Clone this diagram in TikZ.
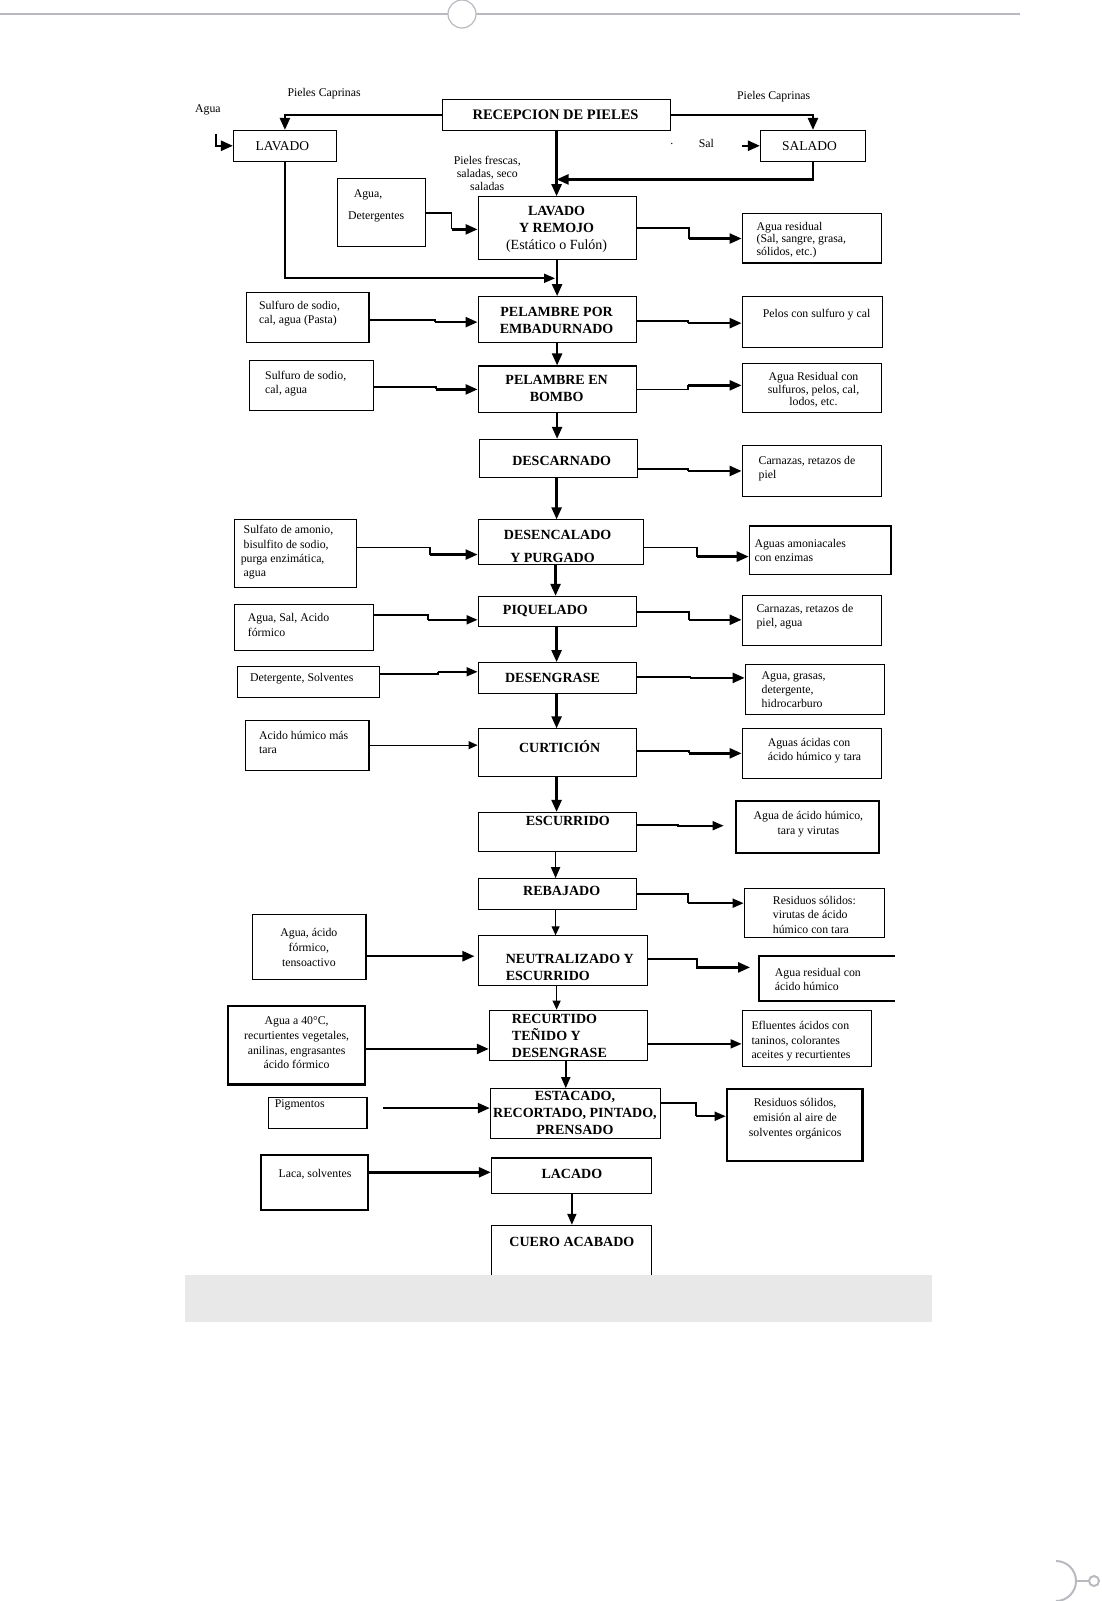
\documentclass[tikz,border=0pt]{standalone}
\usepackage{fontspec}
\setmainfont{Liberation Serif}
\usetikzlibrary{arrows.meta,fit,calc}
\definecolor{decogray}{RGB}{185,185,192}
\definecolor{bandgray}{RGB}{232,232,232}
\tikzset{
  bx/.style={draw, line width=1.1pt, inner sep=0pt},
  bxk/.style={draw, line width=2.3pt, inner sep=0pt},
  tB/.style={font=\fontsize{14}{17}\selectfont\bfseries, inner sep=0pt, align=center},
  tS/.style={font=\fontsize{11.8}{14.3}\selectfont, inner sep=0pt, align=left},
  tSc/.style={tS, align=center},
  arr/.style={line width=2.4pt, -{Triangle[length=12pt,width=10pt]}},
  arrm/.style={line width=1.8pt, -{Triangle[length=11pt,width=9pt]}},
  arrt/.style={line width=1.2pt, -{Triangle[length=9pt,width=8pt]}},
  deco/.style={draw=decogray, line width=1.2pt},
}
\newcommand\stepar[6]{\draw[line width=1.8pt] (#2.east |- 0,#3) -- (#4,#3) -- (#4,#5); \draw[#1] (#4,#5) -- (#6.west |- 0,#5);}
\begin{document}
\begin{tikzpicture}[x=1.0194pt,y=-1.0194pt]
\useasboundingbox (0pt,0pt) rectangle (1101pt,-1601pt);
% page decorations
\draw[deco] (0pt,-14pt) -- (448pt,-14pt);
\draw[deco] (462pt,-14pt) circle[radius=14pt];
\draw[deco] (476pt,-14pt) -- (1020pt,-14pt);
\draw[deco, line width=2pt] (1056pt,-1561pt) arc[start angle=90, end angle=-90, radius=20pt];
\draw[deco, line width=2pt] (1076pt,-1581pt) -- (1089pt,-1581pt);
\draw[deco, line width=2pt] (1094pt,-1581pt) circle[radius=5pt];

% ---------- main column boxes
\node[bx, fit={(434,98) (658,128)}] (rec) {};
\node[bx, fit={(229,128) (330,158)}] (lav) {};
\node[bx, fit={(746,128) (849,158)}] (sal) {};
\node[bx, fit={(469,193) (624,255)}] (lr) {};
\node[bx, fit={(469,291) (624,336)}] (pe) {};
\node[bx, fit={(469,359) (624,405)}] (pb) {};
\node[bx, fit={(470,431) (625,468)}] (ds) {};
\node[bx, fit={(469,510) (631,554)}] (dc) {};
\node[bx, fit={(469,585) (624,615)}] (pq) {};
\node[bx, fit={(469,650) (624,680)}] (dsg) {};
\node[bx, fit={(469,715) (624,762)}] (cu) {};
\node[bx, fit={(469,797) (624,835)}] (esc) {};
\node[bx, fit={(469,862) (624,892)}] (rb) {};
\node[bx, fit={(469,918) (635,967)}] (ne) {};
\node[bx, fit={(480,991) (635,1040)}] (rt) {};
\node[bx, fit={(481,1068) (648,1117)}] (es) {};
\node[bx, fit={(482,1136) (639,1171)}] (la) {};
\node[bx, fit={(482,1202) (639,1262)}] (ca) {};

% ---------- left input boxes
\node[bx, fit={(331,175) (417,242)}] (ad) {};
\node[bx, fit={(242,287) (362,336)}] (s1) {};
\node[bx, fit={(245,354) (366,403)}] (s2) {};
\node[bx, fit={(230,510) (350,576)}] (sa) {};
\node[bx, fit={(230,593) (366,638)}] (as) {};
\node[bx, fit={(233,654) (372,684)}] (dg) {};
\node[bx, fit={(241,707) (362,756)}] (ah) {};
\node[bx, fit={(248,897) (359,961)}] (af) {};
\node[bxk, fit={(224,987) (358,1064)}] (a40) {};
\node[bx, fit={(263,1077) (360,1107)}] (pg) {};
\node[bxk, fit={(256,1133) (361,1187)}] (lc) {};

% ---------- right output boxes
\node[bx, fit={(728,209) (865,258)}] (ar) {};
\node[bx, fit={(728,291) (866,341)}] (pc) {};
\node[bx, fit={(728,357) (865,405)}] (rsw) {};
\node[bx, fit={(728,437) (865,487)}] (cr) {};
\node[bx, fit={(735,516) (874,564)}] (am) {};
\node[bx, fit={(728,584) (865,633)}] (cr2) {};
\node[bx, fit={(731,652) (868,701)}] (ag) {};
\node[bx, fit={(728,715) (865,764)}] (aa) {};
\node[bxk, fit={(722,786) (862,837)}] (ah2) {};
\node[bx, fit={(730,872) (868,920)}] (rs) {};
\node[inner sep=0pt, fit={(745,938) (878,982)}] (arh) {};
\draw[line width=2.3pt] (arh.north east) -- (arh.north west) -- (arh.south west) -- (arh.south east);
\node[bx, fit={(728,991) (855,1046)}] (ef) {};
\node[bxk, fit={(713,1068) (846,1139)}] (rso) {};

% ---------- texts
\node[tS] (tpc1) at (318,92) {Pieles Caprinas};
\node[tS] (tpc2) at (759,95) {Pieles Caprinas};
\node[tS] (tagua) at (204,108) {Agua};
\node[tS] (tsal) at (693,141) {Sal};
\node[tS] (tdot) at (659,141) {.};
\node[tSc, font=\fontsize{11.8}{12.8}\selectfont] (tpf) at (478,170) {Pieles frescas,\\saladas, seco\\saladas};
\node[tB, font=\fontsize{14.5}{17}\selectfont\bfseries] (trec) at (545,113) {RECEPCION DE PIELES};
\node[font=\fontsize{13.5}{16}\selectfont, inner sep=0pt] (tlav) at (277,143) {LAVADO};
\node[font=\fontsize{13.5}{16}\selectfont, inner sep=0pt] (tsald) at (794,143) {SALADO};
\node[tS] (tad1) at (361,191) {Agua,};
\node[tS] (tad2) at (369,213) {Detergentes};
\node[tB] (tlr) at (546,225) {LAVADO\\Y REMOJO\\{\mdseries (Estático o Fulón)}};
\node[tB] (tpe) at (546,314) {PELAMBRE POR\\EMBADURNADO};
\node[tB] (tpb) at (546,381) {PELAMBRE EN\\BOMBO};
\node[tB] (tds) at (551,452) {DESCARNADO};
\node[tB] (tdc1) at (547,525) {DESENCALADO};
\node[tB] (tdc2) at (542,547) {Y PURGADO};
\node[tB] (tpq) at (535,599) {PIQUELADO};
\node[tB] (tdsg) at (542,665) {DESENGRASE};
\node[tB] (tcu) at (549,732) {CURTICIÓN};
\node[tB] (tesc) at (557,805) {ESCURRIDO};
\node[tB] (trb) at (551,874) {REBAJADO};
\node[tB, align=left, anchor=west] (tne) at (496,949.5) {NEUTRALIZADO Y\\ESCURRIDO};
\node[tB, align=left, anchor=west] (trt) at (502,1016) {RECURTIDO\\TEÑIDO Y\\DESENGRASE};
\node[tB] (tes) at (564,1092) {ESTACADO,\\RECORTADO, PINTADO,\\PRENSADO};
\node[tB] (tla) at (561,1152) {LACADO};
\node[tB] (tca) at (561,1218) {CUERO ACABADO};

\node[tS, anchor=west] (ts1) at (254,307.5) {Sulfuro de sodio,\\cal, agua (Pasta)};
\node[tS, anchor=west] (ts2) at (260,376) {Sulfuro de sodio,\\cal, agua};
\node[tS, anchor=west, font=\fontsize{11.8}{14.3}\selectfont] (tsa) at (236,542) {\ Sulfato de amonio,\\\ bisulfito de sodio,\\purga enzimática,\\\ agua};
\node[tS, anchor=west] (tas) at (243,613) {Agua, Sal, Acido\\fórmico};
\node[tS] (tdg) at (296,666) {Detergente, Solventes};
\node[tS, anchor=west] (tah) at (254,728.5) {Acido húmico más\\tara};
\node[tSc, font=\fontsize{11.8}{15}\selectfont] (taf) at (303,929) {Agua, ácido\\fórmico,\\tensoactivo};
\node[tSc, font=\fontsize{11.8}{14.7}\selectfont] (ta40) at (291,1023) {Agua a 40°C,\\recurtientes vegetales,\\anilinas, engrasantes\\ácido fórmico};
\node[tS] (tpg) at (294,1084) {Pigmentos};
\node[tS] (tlc) at (309,1152) {Laca, solventes};

\node[tS, anchor=west, font=\fontsize{11.8}{12.8}\selectfont] (tar) at (742,235.5) {Agua residual\\(Sal, sangre, grasa,\\sólidos, etc.)};
\node[tS] (tpc) at (801,309) {Pelos con sulfuro y cal};
\node[tSc, font=\fontsize{11.8}{12.8}\selectfont] (trsw) at (798,382.5) {Agua Residual con\\sulfuros, pelos, cal,\\lodos, etc.};
\node[tS, anchor=west] (tcr) at (744,459.5) {Carnazas, retazos de\\piel};
\node[tS, anchor=west] (tam) at (740,540) {Aguas amoniacales\\con enzimas};
\node[tS, anchor=west] (tcr2) at (742,605) {Carnazas, retazos de\\piel, agua};
\node[tS, anchor=west] (tag) at (747,676.5) {Agua, grasas,\\detergente,\\hidrocarburo};
\node[tS, anchor=west] (taa) at (753,736.5) {Aguas ácidas con\\ácido húmico y tara};
\node[tSc] (tah2) at (793,808.5) {Agua de ácido húmico,\\tara y virutas};
\node[tS, anchor=west] (trs) at (758,897.5) {Residuos sólidos:\\virutas de ácido\\húmico con tara};
\node[tS, anchor=west] (tarh) at (760,960.5) {Agua residual con\\ácido húmico};
\node[tS, anchor=west] (tef) at (737,1021.5) {Efluentes ácidos con\\taninos, colorantes\\aceites y recurtientes};
\node[tSc, font=\fontsize{11.8}{15}\selectfont] (trso) at (780,1097) {Residuos sólidos,\\emisión al aire de\\solventes orgánicos};

% ---------- top connectors
\draw[arr] (rec.west) -| (lav.north);
\draw[arr] (rec.east) -| (sal.north);
\coordinate (agua0) at (212,131);
\draw[arr] (agua0) |- (lav.west);
\coordinate (sal0) at (728,143);
\draw[arr] (sal0) -- (sal.west);
\draw[arr] (rec.south) -- (rec.south |- lr.north);
\draw[arr] (sal.south) |- (rec.south |- 0,176);
\draw[arrm] (lav.south) |- ($(lr.south |- 0,273)+(-2,0)$);

% ---------- main vertical connectors
\draw[arr] (lr.south) -- (pe.north);
\draw[arr] (pe.south) -- (pb.north);
\draw[arr] (pb.south) -- (pb.south |- ds.north);
\draw[arr] (ds.south -| 546,0) -- (dc.north -| 546,0);
\draw[arr] (dc.south -| 545,0) -- (pq.north -| 545,0);
\draw[arr] (pq.south -| 546,0) -- (dsg.north -| 546,0);
\draw[arr] (dsg.south -| 546,0) -- (cu.north -| 546,0);
\draw[arr] (cu.south -| 546,0) -- (esc.north -| 546,0);
\draw[arrm] (esc.south -| 545,0) -- (rb.north -| 545,0);
\draw[arrt] (rb.south -| 545,0) -- (ne.north -| 545,0);
\draw[arrt] (ne.south -| 546,0) -- (rt.north -| 546,0);
\draw[arrm] (rt.south -| 555,0) -- (es.north -| 555,0);
\draw[arrm] (la.south -| 561,0) -- (ca.north -| 561,0);

% ---------- input connectors
\stepar{arr}{ad}{209}{443}{225}{lr}
\stepar{arr}{s1}{314}{427}{316}{pe}
\stepar{arr}{s2}{380}{428}{382}{pb}
\stepar{arr}{sa}{537}{422}{544}{dc}
\stepar{arrm}{as}{603}{420}{608}{pq}
\stepar{arrm}{dg}{661}{430}{659}{dsg}
\draw[arrt] (ah.east |- 0,731) -- (cu.west |- 0,731);
\draw[arr] (af.east |- 0,938) -- ($(ne.west |- 0,938)+(-3,0)$);
\draw[arr] (a40.east |- 0,1029) -- (rt.west |- 0,1029);
\draw[arr] ($(pg.east |- 0,1087)+(15,0)$) -- (es.west |- 0,1087);
\draw[arr] (lc.east |- 0,1150) -- (la.west |- 0,1150);

% ---------- output connectors
\stepar{arr}{lr}{224}{676}{234}{ar}
\stepar{arr}{pe}{315}{675}{317}{pc}
\stepar{arr}{pb}{382}{675}{378}{rsw}
\stepar{arr}{ds}{460}{675}{462}{cr}
\stepar{arr}{dc}{537}{684}{546}{am}
\stepar{arr}{pq}{600}{676}{608}{cr2}
\stepar{arr}{dsg}{664}{677}{665}{ag}
\stepar{arr}{cu}{737}{676}{739}{aa}
\draw[arrm] (esc.east |- 0,809) -- (665,809) -- (665,810) -- ($(ah2.west |- 0,810)+(-11,0)$);
\stepar{arrm}{rb}{877}{675}{886}{rs}
\draw[arr] (ne.east |- 0,941) -- (684,941) -- (684,949) -- ($(arh.west |- 0,949)+(-9,0)$);
\draw[arrm] (rt.east |- 0,1024) -- (ef.west |- 0,1024);
\stepar{arrm}{es}{1082}{683}{1095}{rso}

% ---------- grey band
\fill[bandgray] (181,1251) rectangle (914,1297);
\end{tikzpicture}
\end{document}
